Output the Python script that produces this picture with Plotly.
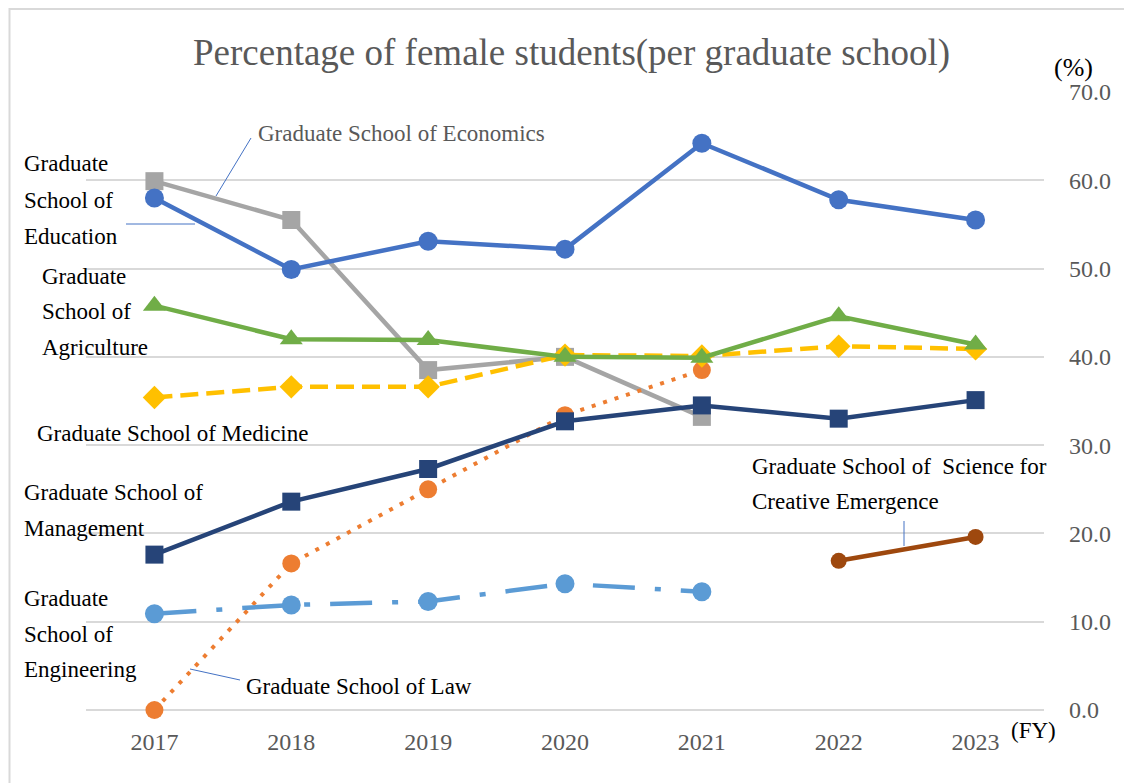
import plotly.graph_objects as go

years = ["2017", "2018", "2019", "2020", "2021", "2022", "2023"]
education = [58.0, 49.9, 53.1, 52.2, 64.2, 57.8, 55.5]
economics = [59.9, 55.5, 38.5, 40.0, 33.2, None, None]
agriculture = [45.8, 42.0, 41.9, 40.0, 39.9, 44.6, 41.4]
medicine = [35.4, 36.6, 36.6, 40.2, 40.1, 41.2, 40.9]
management = [17.6, 23.6, 27.3, 32.7, 34.5, 33.0, 35.1]
law = [0.0, 16.6, 25.0, 33.4, 38.5, None, None]
engineering = [10.9, 11.9, 12.3, 14.3, 13.4, None, None]
science = [None, None, None, None, None, 16.9, 19.6]

FONT = "Liberation Serif"
OFF = 8  # page body margin
W, H = 1132 - OFF, 783 - OFF
# plot area in page pixel coordinates
L, R, T, B = 86, 1044, 92, 710


def px(xp):
    return (xp - L) / (R - L)


def py(yp):
    return (B - yp) / (B - T)


fig = go.Figure()


def add(name, vals, color, symbol, size, dash="solid", width=4.5):
    fig.add_trace(go.Scatter(
        x=years, y=vals, name=name, mode="lines+markers",
        line=dict(color=color, width=width, dash=dash),
        marker=dict(symbol=symbol, size=size, color=color),
        connectgaps=False, showlegend=False, cliponaxis=False,
    ))


add("Graduate School of Economics", economics, "#A5A5A5", "square", 18)
add("Graduate School of Law", law, "#ED7D31", "circle", 18, dash="4px,8px", width=4)
add("Graduate School of Medicine", medicine, "#FFC000", "diamond", 18, dash="18px,8px")
add("Graduate School of Agriculture", agriculture, "#70AD47", "triangle-up", 20)
add("Graduate School of Engineering", engineering, "#5B9BD5", "circle", 19, dash="42px,20px,6px,20px")
add("Graduate School of Management", management, "#264478", "square", 18)
add("Graduate School of Education", education, "#4472C4", "circle", 19)
add("Graduate School of Science for Creative Emergence", science, "#9E480E", "circle", 16)

annots = []


def label(text, x_left, y_mid, color="#000000", size=23):
    annots.append(dict(
        text=text, x=px(x_left), y=py(y_mid), xref="paper", yref="paper",
        xanchor="left", yanchor="middle", showarrow=False,
        font=dict(family=FONT, size=size, color=color),
    ))


label("Graduate School of Economics", 256, 133, color="#595959")
for t, y in zip(["Graduate", "School of", "Education"], [164, 200, 236]):
    label(t, 22, y)
for t, y in zip(["Graduate", "School of", "Agriculture"], [276, 311, 347]):
    label(t, 40, y)
label("Graduate School of Medicine", 35, 433)
for t, y in zip(["Graduate School of", "Management"], [492, 528]):
    label(t, 22, y)
for t, y in zip(["Graduate", "School of", "Engineering"], [598, 634, 669]):
    label(t, 22, y)
label("Graduate School of Law", 244, 686)
for t, y in zip(["Graduate School of  Science for", "Creative Emergence"], [466, 501]):
    label(t, 750, y)

# title and unit labels
annots.append(dict(
    text="Percentage of female students(per graduate school)",
    x=px(571), y=py(53), xref="paper", yref="paper",
    xanchor="center", yanchor="middle", showarrow=False,
    font=dict(family=FONT, size=37, color="#595959"),
))
annots.append(dict(
    text="(%)", x=px(1073), y=py(67), xref="paper", yref="paper",
    xanchor="center", yanchor="middle", showarrow=False,
    font=dict(family=FONT, size=26, color="#000000"),
))
annots.append(dict(
    text="(FY)", x=px(1033), y=py(730), xref="paper", yref="paper",
    xanchor="center", yanchor="middle", showarrow=False,
    font=dict(family=FONT, size=23, color="#000000"),
))

shapes = []


def leader(x0, y0, x1, y1):
    shapes.append(dict(type="line", xref="paper", yref="paper",
                       x0=px(x0), y0=py(y0), x1=px(x1), y1=py(y1),
                       line=dict(color="#4472C4", width=1)))


leader(216, 196, 251, 138)
leader(126, 224, 195, 224)
leader(190, 669, 240, 680)
leader(904, 521, 904, 546)

# outer chart border (top and left edges visible)
shapes.append(dict(type="rect", xref="paper", yref="paper",
                   x0=px(9.5), y0=py(800), x1=px(1145), y1=py(9),
                   line=dict(color="#D9D9D9", width=2), layer="below"))

fig.update_layout(
    width=W, height=H,
    margin=dict(l=L - OFF, r=(1132 - OFF) - (R - OFF), t=T - OFF,
                b=(783 - OFF) - (B - OFF)),
    paper_bgcolor="white", plot_bgcolor="white",
    annotations=annots, shapes=shapes,
    font=dict(family=FONT),
    xaxis=dict(type="category", range=[-0.5, 6.5], showgrid=False,
               showline=False, zeroline=False, ticks="",
               tickfont=dict(family=FONT, size=24, color="#595959"),
               ticklabelstandoff=15),
    yaxis=dict(side="right", range=[0, 70], dtick=10, tickformat=".1f",
               showgrid=True, gridcolor="#D9D9D9", gridwidth=1.5,
               zeroline=True, zerolinecolor="#D9D9D9", zerolinewidth=1.5,
               showline=False, ticks="",
               tickfont=dict(family=FONT, size=24, color="#595959"),
               ticklabelstandoff=24),
)

fig.write_html("out.html")
